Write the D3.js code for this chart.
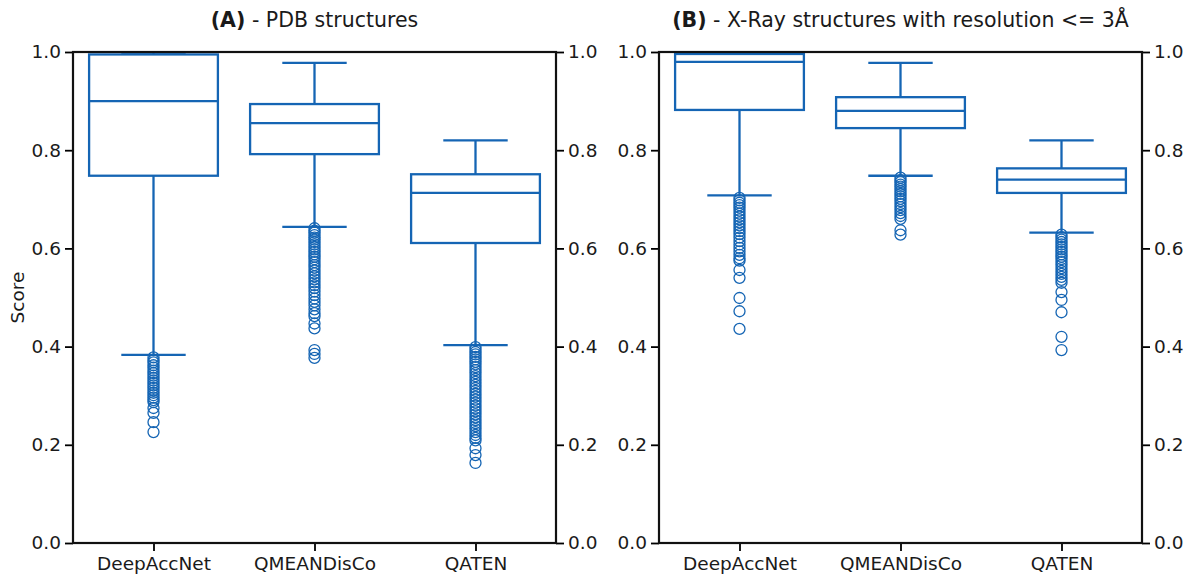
<!DOCTYPE html>
<html>
<head>
<meta charset="utf-8">
<script src="https://cdn.jsdelivr.net/npm/d3@7"></script>
<style>
  html, body { margin: 0; padding: 0; background: #fff; }
  svg { display: block; font-family: "DejaVu Sans", sans-serif; }
</style>
</head>
<body>
<svg id="chart" width="1186" height="577"></svg>
<script>
// ---- data ----
const categories = ["DeepAccNet", "QMEANDisCo", "QATEN"];
const panelTitles = [["(A)", " - PDB structures"], ["(B)", " - X-Ray structures with resolution <= 3Å"]];
const yTicks = [0.0, 0.2, 0.4, 0.6, 0.8, 1.0];

// box stats per category: [lowWhisker, q1, median, q3, highWhisker]
const statsA = [
  [0.383, 0.748, 0.900, 0.995, 0.999],
  [0.644, 0.792, 0.855, 0.894, 0.978],
  [0.403, 0.611, 0.713, 0.751, 0.820]
];
const statsB = [
  [0.708, 0.882, 0.980, 0.996, 0.999],
  [0.748, 0.845, 0.880, 0.908, 0.978],
  [0.632, 0.713, 0.740, 0.763, 0.820]
];

const outliersA_DeepAccNet = [0.378, 0.372, 0.368, 0.362, 0.357, 0.351, 0.346, 0.341, 0.336, 0.331, 0.326, 0.321, 0.316, 0.311, 0.306, 0.301, 0.296, 0.291, 0.287, 0.275, 0.265, 0.246, 0.226];
const outliersA_QMEANDisCo = [0.641, 0.636, 0.632, 0.627, 0.622, 0.618, 0.613, 0.608, 0.603, 0.598, 0.593, 0.588, 0.583, 0.578, 0.572, 0.566, 0.561, 0.555, 0.549, 0.543, 0.537, 0.531, 0.525, 0.519, 0.512, 0.505, 0.498, 0.491, 0.484, 0.476, 0.468, 0.462, 0.447, 0.437, 0.393, 0.385, 0.377];
const outliersA_QATEN = [0.399, 0.394, 0.389, 0.384, 0.379, 0.374, 0.369, 0.364, 0.358, 0.352, 0.346, 0.340, 0.334, 0.328, 0.322, 0.316, 0.310, 0.304, 0.298, 0.292, 0.286, 0.280, 0.274, 0.268, 0.262, 0.256, 0.250, 0.244, 0.238, 0.232, 0.226, 0.220, 0.214, 0.209, 0.193, 0.179, 0.163];
const outliersB_DeepAccNet = [0.703, 0.698, 0.693, 0.688, 0.683, 0.677, 0.671, 0.665, 0.659, 0.653, 0.647, 0.641, 0.635, 0.629, 0.622, 0.615, 0.608, 0.601, 0.594, 0.587, 0.580, 0.575, 0.556, 0.540, 0.499, 0.472, 0.436];
const outliersB_QMEANDisCo = [0.744, 0.739, 0.735, 0.730, 0.726, 0.721, 0.716, 0.711, 0.706, 0.701, 0.696, 0.690, 0.684, 0.678, 0.672, 0.666, 0.660, 0.637, 0.628];
const outliersB_QATEN = [0.628, 0.623, 0.618, 0.613, 0.608, 0.603, 0.598, 0.593, 0.588, 0.583, 0.578, 0.572, 0.566, 0.560, 0.554, 0.548, 0.542, 0.536, 0.530, 0.511, 0.495, 0.470, 0.420, 0.393];

const outliersA = [outliersA_DeepAccNet, outliersA_QMEANDisCo, outliersA_QATEN];
const outliersB = [outliersB_DeepAccNet, outliersB_QMEANDisCo, outliersB_QATEN];

// ---- layout ----
const COLOR = "#1565b4";
const svg = d3.select("#chart");
const plotTop = 52, plotBottom = 543;
const panels = [
  { left: 73, right: 556, stats: statsA, outliers: outliersA, title: panelTitles[0], ylabel: true },
  { left: 659, right: 1142, stats: statsB, outliers: outliersB, title: panelTitles[1], ylabel: false }
];

const y = d3.scaleLinear().domain([0, 1]).range([plotBottom, plotTop]);
const fmt = d3.format(".1f");

panels.forEach(p => {
  const x = d3.scaleLinear().domain([0.5, 3.5]).range([p.left, p.right]);
  const g = svg.append("g");
  const boxW = x(0.8) - x(0);
  const capW = boxW / 2;

  p.stats.forEach((s, i) => {
    const cx = x(i + 1);
    const [lo, q1, med, q3, hi] = s;
    const bg = g.append("g").attr("stroke", COLOR).attr("stroke-width", 2.3).attr("fill", "none");
    p.outliers[i].forEach(v => {
      bg.append("circle").attr("cx", cx).attr("cy", y(v)).attr("r", 5.5).attr("stroke-width", 1.3);
    });
    bg.append("line").attr("x1", cx).attr("x2", cx).attr("y1", y(lo)).attr("y2", y(q1));
    bg.append("line").attr("x1", cx).attr("x2", cx).attr("y1", y(q3)).attr("y2", y(hi));
    bg.append("line").attr("x1", cx - capW / 2).attr("x2", cx + capW / 2).attr("y1", y(lo)).attr("y2", y(lo));
    bg.append("line").attr("x1", cx - capW / 2).attr("x2", cx + capW / 2).attr("y1", y(hi)).attr("y2", y(hi));
    bg.append("rect").attr("x", cx - boxW / 2).attr("y", y(q3)).attr("width", boxW).attr("height", y(q1) - y(q3));
    bg.append("line").attr("x1", cx - boxW / 2).attr("x2", cx + boxW / 2).attr("y1", y(med)).attr("y2", y(med));
  });

  const styleAxis = sel => {
    sel.selectAll(".domain").remove();
    sel.selectAll(".tick line").attr("stroke", "#000").attr("stroke-width", 1.8);
    sel.selectAll(".tick text").attr("font-size", 18.5).attr("fill", "#1a1a1a").attr("font-family", "DejaVu Sans, sans-serif");
  };
  const yl = d3.axisLeft(y).tickValues(yTicks).tickFormat(fmt).tickSize(8).tickPadding(4);
  const yr = d3.axisRight(y).tickValues(yTicks).tickFormat(fmt).tickSize(8).tickPadding(4);
  const xa = d3.axisBottom(x).tickValues([1, 2, 3]).tickFormat((d) => categories[d - 1]).tickSize(8).tickPadding(6);
  g.append("g").attr("transform", `translate(${p.left},0)`).call(yl).call(styleAxis);
  g.append("g").attr("transform", `translate(${p.right},0)`).call(yr).call(styleAxis);
  g.append("g").attr("transform", `translate(0,${plotBottom})`).call(xa).call(styleAxis);

  g.append("rect").attr("x", p.left).attr("y", plotTop).attr("width", p.right - p.left).attr("height", plotBottom - plotTop)
    .attr("fill", "none").attr("stroke", "#111").attr("stroke-width", 2.2);

  const t = g.append("text").attr("x", (p.left + p.right) / 2).attr("y", 27)
    .attr("text-anchor", "middle").attr("font-size", 20.5).attr("fill", "#1a1a1a");
  t.append("tspan").attr("font-weight", "bold").text(p.title[0]);
  t.append("tspan").text(p.title[1]);

  if (p.ylabel) {
    g.append("text").attr("transform", `translate(24,${(plotTop + plotBottom) / 2}) rotate(-90)`)
      .attr("text-anchor", "middle").attr("font-size", 18.5).attr("fill", "#1a1a1a").text("Score");
  }
});
</script>
</body>
</html>
